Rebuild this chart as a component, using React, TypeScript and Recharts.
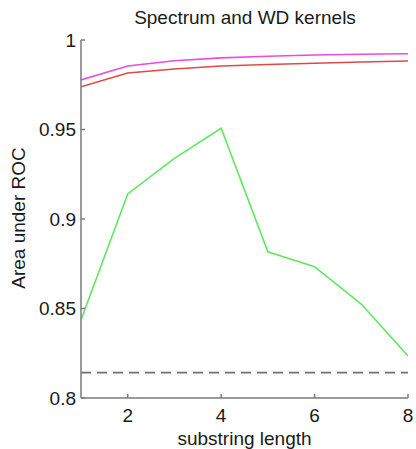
import React from 'react';
import { LineChart, Line, XAxis, YAxis, ReferenceLine } from 'recharts';

const substringLength = [1, 2, 3, 4, 5, 6, 7, 8];
const wdKernel = [0.9777, 0.9855, 0.9884, 0.9900, 0.9909, 0.9916, 0.9920, 0.9923];
const wdShiftKernel = [0.9739, 0.9816, 0.9838, 0.9855, 0.9863, 0.9870, 0.9877, 0.9883];
const spectrumKernel = [0.8436, 0.9140, 0.9339, 0.9507, 0.8817, 0.8734, 0.8525, 0.8235];
const baseline = 0.8142;
const xTicks = [2, 4, 6, 8];
const yTicks = [0.8, 0.85, 0.9, 0.95, 1];

const data = substringLength.map((x, i) => ({
  x,
  wd: wdKernel[i],
  wds: wdShiftKernel[i],
  spec: spectrumKernel[i],
}));

const FONT = '"Liberation Sans", Arial, Helvetica, sans-serif';
const AXIS = '#7a7a7a';
const TEXT = '#1a1a1a';

export default function App() {
  const tickStyle = { fill: TEXT, fontSize: 19, fontFamily: FONT };
  return (
    <div style={{ position: 'absolute', left: 0, top: 0, width: 416, height: 449, background: '#fff' }}>
      <LineChart
        width={416}
        height={449}
        data={data}
        margin={{ top: 40, right: 8, bottom: 21, left: 21 }}
      >
        <XAxis
          xAxisId="b"
          dataKey="x"
          type="number"
          domain={[1, 8]}
          ticks={xTicks}
          height={30}
          tickSize={-4}
          tickMargin={15}
          tick={tickStyle}
          stroke={AXIS}
          strokeWidth={1.5}
          allowDataOverflow
        />
        <XAxis
          xAxisId="t"
          dataKey="x"
          type="number"
          orientation="top"
          domain={[1, 8]}
          ticks={xTicks}
          height={0}
          tickSize={-4}
          tick={false}
          stroke={AXIS}
          strokeWidth={1.5}
        />
        <YAxis
          yAxisId="l"
          type="number"
          domain={[0.8, 1]}
          ticks={yTicks}
          width={60}
          tickSize={-4}
          tickMargin={9}
          tick={tickStyle}
          tickFormatter={(v: number) => String(v)}
          stroke={AXIS}
          strokeWidth={1.5}
          allowDataOverflow
        />
        <YAxis
          yAxisId="r"
          type="number"
          orientation="right"
          domain={[0.8, 1]}
          ticks={yTicks}
          width={0}
          tickSize={-4}
          tick={false}
          stroke={AXIS}
          strokeWidth={1.5}
        />
        <ReferenceLine
          xAxisId="b"
          yAxisId="l"
          y={baseline}
          stroke="#707070"
          strokeWidth={1.6}
          strokeDasharray="10 6"
        />
        <Line xAxisId="b" yAxisId="l" dataKey="spec" stroke="#5fe85f" strokeWidth={1.6} dot={false} isAnimationActive={false} />
        <Line xAxisId="b" yAxisId="l" dataKey="wds" stroke="#dd4a4a" strokeWidth={1.6} dot={false} isAnimationActive={false} />
        <Line xAxisId="b" yAxisId="l" dataKey="wd" stroke="#e84ce8" strokeWidth={1.6} dot={false} isAnimationActive={false} />
      </LineChart>
      <svg
        width={416}
        height={449}
        style={{ position: 'absolute', left: 0, top: 0, pointerEvents: 'none' }}
      >
        <text x={245} y={23.5} textAnchor="middle" fontSize={19} fontFamily={FONT} fill={TEXT}>
          Spectrum and WD kernels
        </text>
        <text x={244.5} y={445} textAnchor="middle" fontSize={19} fontFamily={FONT} fill={TEXT}>
          substring length
        </text>
        <text
          x={25}
          y={218}
          textAnchor="middle"
          fontSize={19}
          fontFamily={FONT}
          fill={TEXT}
          transform="rotate(-90 25 218)"
        >
          Area under ROC
        </text>
      </svg>
    </div>
  );
}
